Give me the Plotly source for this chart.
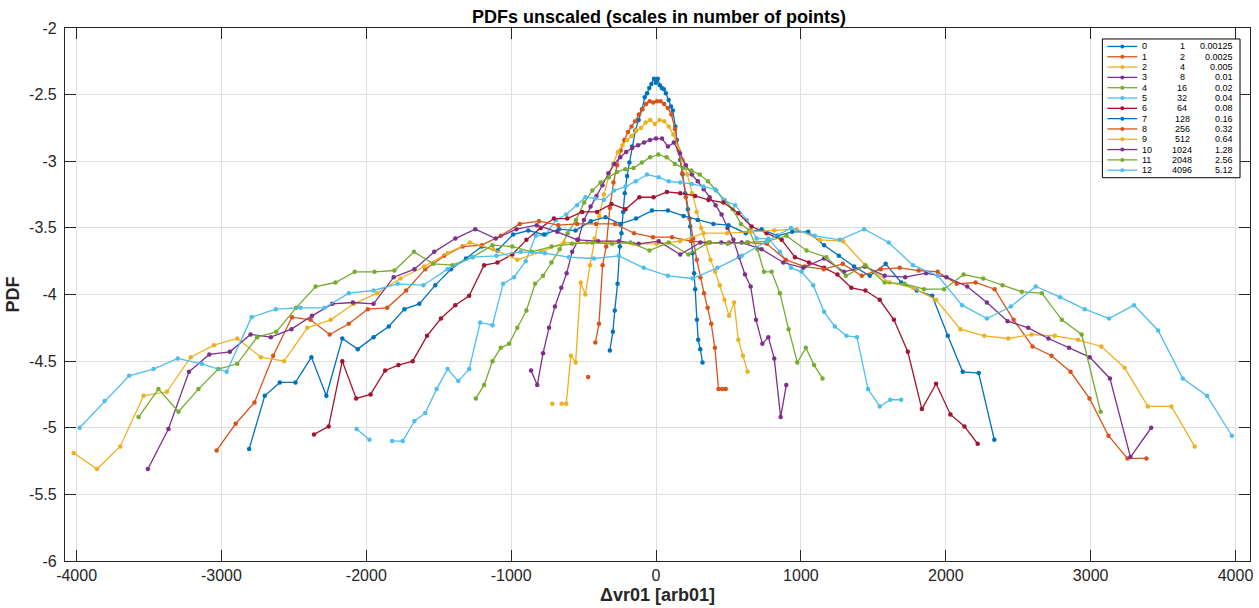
import plotly.graph_objects as go

# ---------------- data ----------------
series_ids = ["0", "1", "2", "3", "4", "5", "6", "7", "8", "9", "10", "11", "12"]
npoints = ["1", "2", "4", "8", "16", "32", "64", "128", "256", "512", "1024", "2048", "4096"]
scales = ["0.00125", "0.0025", "0.005", "0.01", "0.02", "0.04", "0.08", "0.16", "0.32", "0.64", "1.28", "2.56", "5.12"]

x0 = [-319, -298, -285, -266, -250, -239, -227, -216, -200, -184, -166, -143, -120, -97, -78, -62, -47, -32, -14, -1,
      12, 26, 40, 54, 68, 87, 103, 116, 133, 144, 167, 183, 201, 220, 236, 252, 263, 270, 282, 291, 305, 321]
y0 = [-4.42, -4.28, -4.12, -3.92, -3.64, -3.54, -3.38, -3.24, -3.11, -3.01, -2.89, -2.77, -2.69, -2.61, -2.52, -2.49,
      -2.45, -2.42, -2.38, -2.41, -2.38, -2.43, -2.45, -2.46, -2.49, -2.54, -2.59, -2.62, -2.74, -2.84, -2.99, -3.10,
      -3.24, -3.36, -3.49, -3.69, -3.84, -3.96, -4.19, -4.34, -4.41, -4.51]

x1 = [-469, -444, -419, -394, -369, -344, -319, -294, -269, -244, -219, -194, -169, -144, -119, -94, -69, -44, -19, 6,
      31, 56, 81, 106, 131, 156, 181, 206, 231, 256, 281, 306, 331, 356, 381, 406, 431, 456, 481]
y1 = [-4.62, None, -4.36, -4.22, -3.78, -3.64, -3.35, -3.16, -3.03, -2.92, -2.84, -2.78, -2.74, -2.70, -2.65, -2.61,
      -2.57, -2.55, -2.56, -2.55, -2.55, -2.57, -2.60, -2.65, -2.76, -2.92, -3.09, -3.27, -3.43, -3.58, -3.74, -3.87,
      -3.99, -4.10, -4.22, -4.40, -4.71, -4.71, -4.71]

x2 = [-716, -684, -652, -620, -588, -555, -520, -488, -456, -424, -392, -360, -328, -296, -264, -232, -200, -168, -136,
      -104, -72, -40, -8, 24, 56, 88, 120, 152, 184, 216, 248, 280, 312, 344, 376, 408, 440, 472, 504, 539, 568, 600, 632]
y2 = [-4.82, None, -4.82, -4.82, -4.46, -4.51, -3.91, -4.00, -3.78, -3.58, -3.41, -3.25, -3.12, -3.02, -2.93, -2.88,
      -2.84, -2.81, -2.77, -2.75, -2.71, -2.69, -2.72, -2.69, -2.70, -2.74, -2.80, -2.90, -2.99, -3.10, -3.24, -3.38,
      -3.50, -3.62, -3.74, -3.83, -3.93, -4.04, -4.16, -4.06, -4.34, -4.46, -4.58]

x3 = [-863, -820, -780, -739, -698, -654, -617, -579, -537, -498, -452, -411, -370, -329, -288, -247, -206, -165, -124,
      -83, -42, 0, 41, 82, 123, 165, 206, 247, 288, 329, 370, 411, 452, 493, 534, 573, 614, 653, 690, 734, 775, 816,
      860, 899]
y3 = [-4.57, -4.68, -4.44, -4.25, -4.09, -3.95, -3.84, -3.68, -3.59, -3.44, -3.34, -3.26, -3.18, -3.09, -3.02, -2.97,
      -2.93, -2.90, -2.88, -2.86, -2.84, -2.83, -2.83, -2.89, -2.86, -2.94, -3.03, -3.10, -3.15, -3.21, -3.27, -3.33,
      -3.40, -3.50, -3.59, -3.72, -3.85, -3.94, -4.19, -4.37, -4.32, -4.48, -4.92, -4.68]

x4 = [-1244, -1187, -1129, -1072, -1015, -958, -895, -835, -780, -722, -665, -610, -553, -496, -440, -383, -326, -270,
      -212, -155, -98, -41, 16, 73, 130, 187, 244, 301, 358, 415, 472, 529, 586, 643, 700, 745, 798, 855, 915, 975,
      1034, 1091, 1149]
y4 = [-4.78, -4.68, -4.50, -4.40, -4.37, -4.25, -4.12, -3.92, -3.86, -3.76, -3.66, -3.54, -3.44, -3.31, -3.22, -3.16,
      -3.12, -3.08, -3.06, -3.05, -3.01, -2.97, -2.95, -2.97, -3.02, -3.05, -3.07, -3.10, -3.15, -3.22, -3.29, -3.36,
      -3.47, -3.52, -3.66, -3.83, -3.83, -3.99, -4.26, -4.51, -4.40, -4.53, -4.63]

x5 = [-2067, -1978, -1900, -1822, -1749, -1668, -1593, -1515, -1439, -1365, -1290, -1214, -1129, -1056, -980, -900,
      -831, -762, -690, -620, -545, -487, -420, -360, -290, -211, -140, -62, 18, 87, 167, 247, 328, 408, 465, 546, 626,
      694, 775, 855, 931, 1004, 1085, 1160, 1234, 1314, 1387, 1463, 1544, 1617, 1692]
y5 = [-5.01, -5.09, None, -5.10, -5.10, -4.95, -4.89, -4.71, -4.56, -4.65, -4.56, -4.21, -4.23, -3.92, -3.87, -3.75,
      -3.56, -3.55, -3.44, -3.40, -3.33, -3.27, -3.28, -3.29, -3.22, -3.19, -3.15, -3.10, -3.12, -3.15, -3.16, -3.17,
      -3.19, -3.21, -3.29, -3.33, -3.44, -3.58, -3.58, -3.68, -3.80, -3.83, -3.93, -4.13, -4.24, -4.31, -4.32, -4.71,
      -4.84, -4.79, -4.79]

x6 = [-2361, -2260, -2166, -2070, -1971, -1870, -1778, -1680, -1581, -1485, -1386, -1290, -1187, -1095, -992, -895,
      -796, -705, -613, -510, -407, -308, -211, -115, -17, 75, 167, 270, 362, 465, 568, 660, 763, 867, 959, 1055, 1160,
      1252, 1348, 1445, 1544, 1642, 1738, 1835, 1933, 2032, 2129, 2220]
y6 = [-5.05, -4.99, -4.50, -4.78, -4.75, -4.57, -4.53, -4.50, -4.31, -4.18, -4.08, -4.01, -3.78, -3.76, -3.70, -3.59,
      -3.50, -3.43, -3.43, -3.38, -3.38, -3.32, -3.36, -3.27, -3.27, -3.23, -3.24, -3.26, -3.29, -3.31, -3.39, -3.49,
      -3.54, -3.59, -3.72, -3.76, -3.80, -3.85, -3.95, -3.97, -4.04, -4.19, -4.43, -4.86, -4.67, -4.90, -4.99, -5.12]

x7 = [-2809, -2701, -2597, -2489, -2379, -2276, -2166, -2059, -1950, -1845, -1737, -1634, -1524, -1416, -1312, -1203,
      -1095, -987, -882, -774, -670, -556, -450, -349, -246, -138, -28, 82, 190, 288, 396, 500, 619, 729, 839, 940, 1050,
      1160, 1262, 1367, 1475, 1585, 1692, 1800, 1906, 2014, 2117, 2227, 2335]
y7 = [-5.16, -4.76, -4.66, -4.66, -4.47, -4.76, -4.33, -4.41, -4.32, -4.24, -4.11, -4.07, -3.93, -3.81, -3.73, -3.64,
      -3.67, -3.55, -3.52, -3.55, -3.51, -3.52, -3.45, -3.42, -3.47, -3.43, -3.37, -3.37, -3.41, -3.44, -3.47, -3.48,
      -3.54, -3.51, -3.56, -3.53, -3.53, -3.63, -3.71, -3.79, -3.86, -3.77, -3.91, -3.97, -4.01, -4.31, -4.58, -4.59,
      -5.09]

x8 = [-3033, -2902, -2772, -2643, -2513, -2384, -2253, -2121, -1990, -1856, -1725, -1593, -1462, -1336, -1203, -1072,
      -941, -808, -675, -545, -414, -283, -152, -21, 110, 241, 372, 503, 634, 765, 896, 1027, 1158, 1289, 1420, 1551,
      1682, 1813, 1944, 2075, 2206, 2337, 2468, 2599, 2730, 2861, 2992, 3123, 3254, 3385]
y8 = [-5.17, -4.97, -4.81, -4.46, -4.17, -4.19, -4.30, -4.22, -4.11, -4.10, -3.97, -3.81, -3.71, -3.64, -3.63, -3.56,
      -3.47, -3.45, -3.48, -3.47, -3.47, -3.47, -3.54, -3.57, -3.57, -3.60, -3.61, -3.61, -3.61, -3.62, -3.74, -3.79,
      -3.81, -3.77, -3.86, -3.81, -3.80, -3.82, -3.83, -3.92, -3.91, -3.96, -4.19, -4.39, -4.46, -4.58, -4.78, -5.06,
      -5.23, -5.23]

x9 = [-4020, -3859, -3699, -3538, -3377, -3212, -3052, -2891, -2728, -2568, -2407, -2246, -2086, -1925, -1765, -1600,
      -1439, -1285, -1125, -957, -796, -636, -476, -316, -156, 4, 164, 328, 490, 655, 816, 970, 1131, 1291, 1452, 1612,
      1773, 1933, 2101, 2266, 2431, 2592, 2752, 2913, 3074, 3234, 3395, 3557, 3718]
y9 = [-5.19, -5.31, -5.14, -4.76, -4.73, -4.47, -4.38, -4.33, -4.47, -4.50, -4.25, -4.19, -4.07, -3.99, -3.88, -3.79,
      -3.69, -3.61, -3.66, -3.74, -3.68, -3.61, -3.61, -3.61, -3.62, -3.62, -3.60, -3.54, -3.54, -3.53, -3.52, -3.51,
      -3.59, -3.60, -3.79, -3.91, -3.95, -4.04, -4.26, -4.31, -4.33, -4.30, -4.31, -4.34, -4.39, -4.55, -4.84, -4.84,
      -5.14]

x10 = [-3508, -3366, -3224, -3084, -2942, -2799, -2659, -2517, -2375, -2235, -2093, -1950, -1811, -1668, -1531, -1386,
       -1248, -1106, -964, -824, -682, -544, -400, -257, -120, 18, 167, 305, 450, 591, 729, 878, 1016, 1160, 1298, 1440,
       1578, 1720, 1864, 2005, 2148, 2284, 2427, 2569, 2709, 2851, 2993, 3133, 3275, 3418]
y10 = [-5.31, -5.01, -4.58, -4.45, -4.43, -4.30, -4.32, -4.26, -4.16, -4.07, -4.06, -4.07, -3.87, -3.81, -3.68, -3.58,
       -3.51, -3.58, -3.51, -3.48, -3.53, -3.59, -3.60, -3.60, -3.62, -3.60, -3.70, -3.61, -3.61, -3.61, -3.66, -3.76,
       -3.80, -3.73, -3.83, -3.79, -3.86, -3.87, -3.84, -3.87, -3.94, -4.06, -4.20, -4.25, -4.33, -4.40, -4.47, -4.63,
       -5.22, -5.00]

x11 = [-3572, -3435, -3297, -3159, -3022, -2891, -2754, -2622, -2485, -2350, -2213, -2080, -1944, -1806, -1671, -1537,
       -1405, -1267, -1129, -992, -858, -721, -580, -441, -303, -177, -46, 87, 224, 362, 494, 626, 770, 901, 1039, 1176,
       1310, 1445, 1578, 1716, 1850, 1988, 2123, 2259, 2392, 2525, 2663, 2801, 2938, 3069]
y11 = [-4.92, -4.71, -4.88, -4.71, -4.56, -4.52, -4.32, -4.28, -4.10, -3.94, -3.91, -3.83, -3.83, -3.82, -3.68, -3.77,
       -3.78, -3.72, -3.63, -3.64, -3.68, -3.64, -3.62, -3.61, -3.62, -3.61, -3.67, -3.61, -3.70, -3.61, -3.62, -3.61,
       -3.60, -3.56, -3.67, -3.72, -3.86, -3.78, -3.91, -3.92, -3.96, -3.96, -3.85, -3.88, -3.93, -3.98, -3.99, -4.19,
       -4.30, -4.88]

x12 = [-3979, -3807, -3637, -3469, -3302, -3136, -2964, -2792, -2625, -2455, -2288, -2121, -1950, -1783, -1606, -1439,
       -1267, -1102, -934, -767, -602, -429, -257, -85, 82, 252, 424, 591, 763, 931, 1096, 1268, 1436, 1606, 1773, 1945,
       2112, 2284, 2449, 2621, 2789, 2959, 3127, 3299, 3466, 3636, 3803, 3975]
y12 = [-5.00, -4.80, -4.61, -4.56, -4.48, -4.52, -4.58, -4.17, -4.11, -4.10, -4.10, -3.99, -3.97, -3.92, -3.93, -3.81,
       -3.72, -3.71, -3.68, -3.69, -3.72, -3.73, -3.71, -3.80, -3.86, -3.88, -3.80, -3.71, -3.60, -3.50, -3.56, -3.59,
       -3.51, -3.61, -3.78, -3.86, -4.08, -4.18, -4.09, -3.94, -4.02, -4.11, -4.18, -4.08, -4.27, -4.63, -4.76, -5.06]

x_tick_vals = [-4000, -3000, -2000, -1000, 0, 1000, 2000, 3000, 4000]
x_tick_text = ["-4000", "-3000", "-2000", "-1000", "0", "1000", "2000", "3000", "4000"]
y_tick_vals = [-6, -5.5, -5, -4.5, -4, -3.5, -3, -2.5, -2]
y_tick_text = ["-6", "-5.5", "-5", "-4.5", "-4", "-3.5", "-3", "-2.5", "-2"]

xs = [x0, x1, x2, x3, x4, x5, x6, x7, x8, x9, x10, x11, x12]
ys = [y0, y1, y2, y3, y4, y5, y6, y7, y8, y9, y10, y11, y12]

# ---------------- style ----------------
palette = ["#0072BD", "#D95319", "#EDB120", "#7E2F8E", "#77AC30", "#4DBEEE", "#A2142F"]
W, H = 1259, 608
ML, MR, MT, MB = 65, 6, 28, 46
PW, PH = W - ML - MR, H - MT - MB
FONT = "Liberation Sans, Arial, Helvetica, sans-serif"
AXC = "#262626"

fig = go.Figure()
for i, (xx, yy) in enumerate(zip(xs, ys)):
    c = palette[i % len(palette)]
    fig.add_trace(go.Scatter(
        x=xx, y=yy, mode="lines+markers", name=series_ids[i],
        line=dict(color=c, width=1.3),
        marker=dict(color=c, size=4.5, symbol="circle"),
        connectgaps=False, showlegend=False,
    ))


def px(xp):
    return (xp - ML) / PW


def py(yp):
    return (H - MB - yp) / PH


shapes = []
annotations = []
# legend box (drawn as a layout guide)
shapes.append(dict(type="rect", xref="paper", yref="paper",
                   x0=px(1105), x1=px(1243), y0=py(178), y1=py(39),
                   line=dict(color="black", width=1), fillcolor="white", layer="above"))
row0, rowh = 46.5, 10.33
for i in range(len(series_ids)):
    c = palette[i % len(palette)]
    yr = row0 + i * rowh
    shapes.append(dict(type="line", xref="paper", yref="paper",
                       x0=px(1110), x1=px(1140), y0=py(yr), y1=py(yr),
                       line=dict(color=c, width=1.3), layer="above"))
    shapes.append(dict(type="circle", xref="paper", yref="paper",
                       x0=px(1123), x1=px(1127), y0=py(yr + 2), y1=py(yr - 2),
                       line=dict(color=c, width=0), fillcolor=c, layer="above"))
    for txt, xp, anc in ((series_ids[i], 1143, "left"), (npoints[i], 1185, "center"), (scales[i], 1238, "right")):
        annotations.append(dict(text=txt, xref="paper", yref="paper", x=px(xp), y=py(yr),
                                xanchor=anc, yanchor="middle", showarrow=False,
                                font=dict(family=FONT, size=9, color="black")))

fig.update_layout(
    width=W, height=H,
    margin=dict(l=ML, r=MR, t=MT, b=MB),
    paper_bgcolor="white", plot_bgcolor="white",
    title=dict(text="<b>PDFs unscaled (scales in number of points)</b>", x=(ML + PW / 2) / W, xanchor="center",
               y=1 - 17 / H, yanchor="middle", yref="container",
               font=dict(family=FONT, size=18, color="black")),
    xaxis=dict(range=[-4080, 4100], tickvals=x_tick_vals, ticktext=x_tick_text,
               showgrid=True, gridcolor="#dedede", gridwidth=1, zeroline=False,
               showline=True, linecolor=AXC, linewidth=1.3, mirror="ticks",
               ticks="inside", ticklen=11, tickcolor=AXC,
               tickfont=dict(family=FONT, size=16, color=AXC),
               title=dict(text="<b>Δvr01 [arb01]</b>", standoff=5,
                          font=dict(family=FONT, size=18, color=AXC))),
    yaxis=dict(range=[-6, -2], tickvals=y_tick_vals, ticktext=y_tick_text,
               showgrid=True, gridcolor="#dedede", gridwidth=1, zeroline=False,
               showline=True, linecolor=AXC, linewidth=1.3, mirror="ticks",
               ticks="inside", ticklen=11, tickcolor=AXC, ticklabelstandoff=4,
               tickfont=dict(family=FONT, size=16, color=AXC),
               title=dict(text="<b>PDF</b>", standoff=4,
                          font=dict(family=FONT, size=18, color=AXC))),
    shapes=shapes, annotations=annotations,
    showlegend=False,
)

fig.write_html("out.html")
